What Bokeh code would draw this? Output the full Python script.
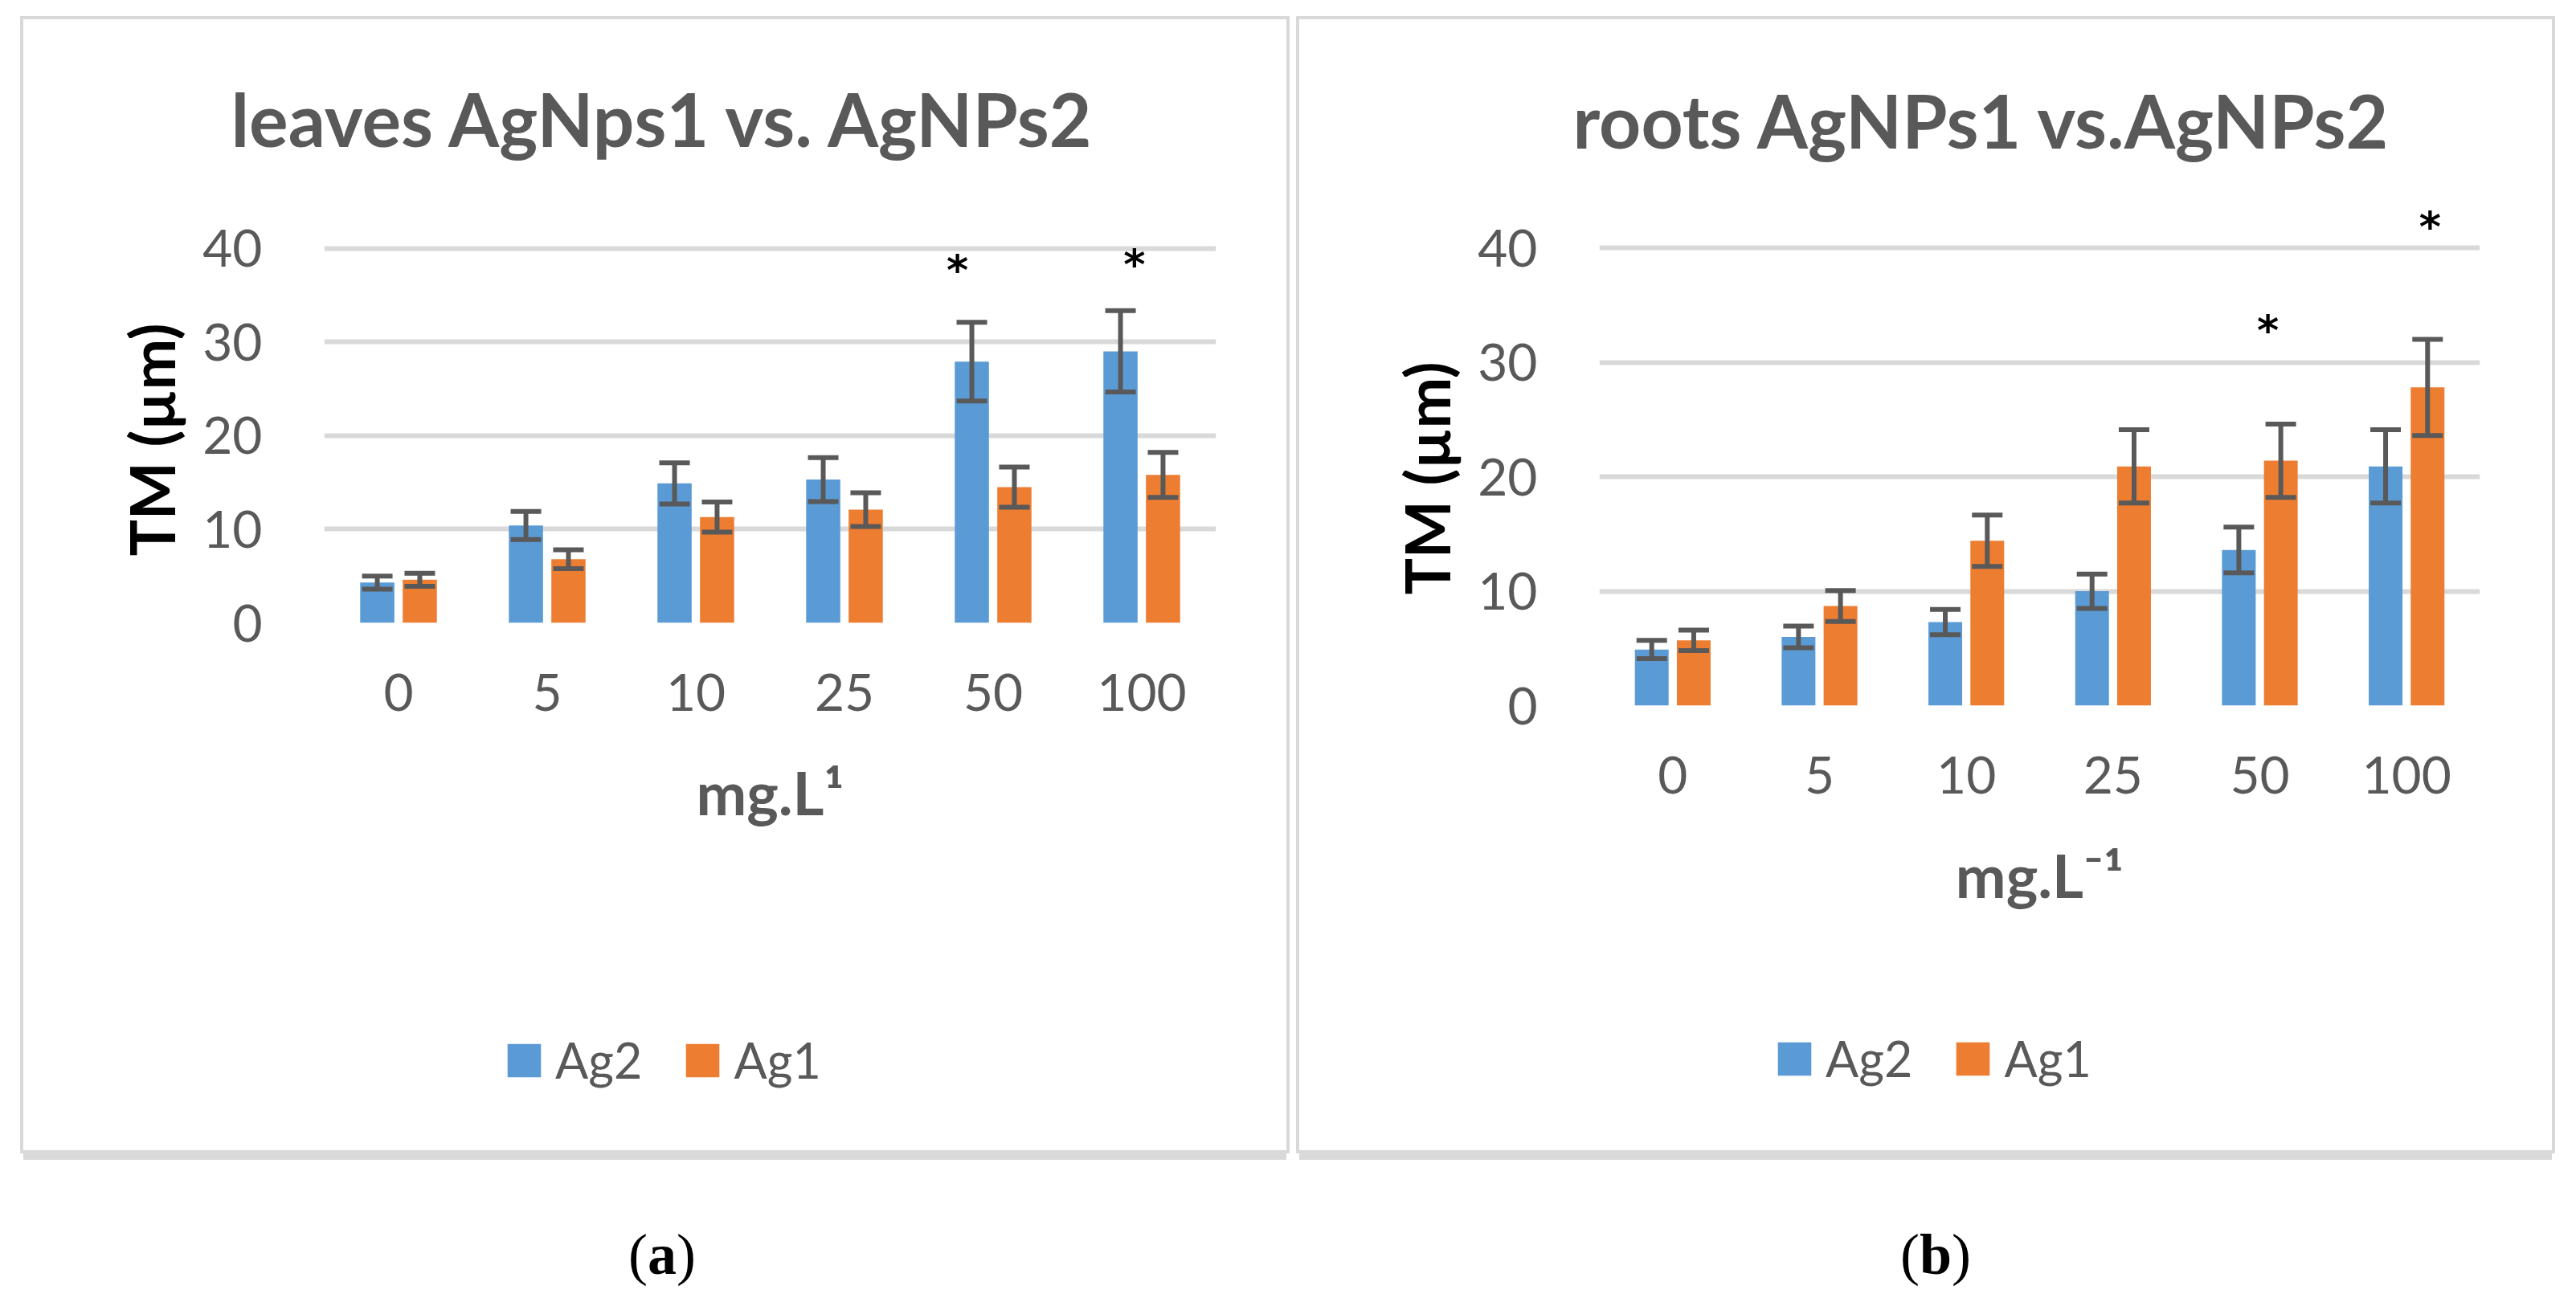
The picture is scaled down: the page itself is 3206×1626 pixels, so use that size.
from bokeh.plotting import figure
from bokeh.models import (FactorRange, ColumnDataSource, Whisker, TeeHead, Legend,
                          LegendItem, Title, FixedTicker, Div, Range1d)
from bokeh.transform import dodge
from bokeh.layouts import row, column
from bokeh.core.properties import value
from bokeh.embed import file_html
from bokeh.resources import INLINE

# ---------------- data ----------------
concentrations = ["0", "5", "10", "25", "50", "100"]
y_ticks = [0, 10, 20, 30, 40]

leaves_ag2 = [4.3, 10.4, 14.9, 15.3, 27.9, 29.0]
leaves_ag2_err = [0.7, 1.5, 2.2, 2.35, 4.2, 4.35]
leaves_ag1 = [4.6, 6.8, 11.3, 12.1, 14.5, 15.8]
leaves_ag1_err = [0.7, 1.0, 1.6, 1.8, 2.15, 2.4]

roots_ag2 = [4.9, 6.0, 7.3, 10.0, 13.6, 20.9]
roots_ag2_err = [0.8, 0.95, 1.1, 1.5, 2.0, 3.2]
roots_ag1 = [5.7, 8.7, 14.4, 20.9, 21.4, 27.8]
roots_ag1_err = [0.9, 1.35, 2.25, 3.2, 3.2, 4.2]

# significance marks: (category, offset within category, height)
leaves_marks = [("50", -0.24, 38.6), ("100", -0.05, 39.2)]
roots_marks = [("50", 0.055, 33.6), ("100", 0.16, 42.6)]

series_names = ["Ag2", "Ag1"]
BLUE = "#5b9bd5"
ORANGE = "#ed7d31"
GREY_TXT = "#595959"
GRID = "#d9d9d9"
FONT = "Lato"

PANEL_STYLE = {"outline": "4px solid #d9d9d9",
               "box-shadow": "0px 12px 0px 0px #d9d9d9",
               "background-color": "white"}


def make_chart(title, xlabel, ag2, ag2e, ag1, ag1e, marks, ymax,
               fw, fh, mbl, mbr, mbt, mbb, title_off, title_standoff, ylab_off):
    p = figure(x_range=FactorRange(factors=concentrations),
               y_range=Range1d(0, ymax),
               frame_width=fw, frame_height=fh,
               min_border_left=mbl, min_border_right=mbr,
               min_border_top=mbt, min_border_bottom=mbb,
               output_backend="svg", toolbar_location=None,
               title=title)
    p.outline_line_color = None
    p.background_fill_color = "white"
    p.border_fill_color = "white"

    p.title.text_font = FONT
    p.title.text_font_size = "91px"
    p.title.text_font_style = "bold"
    p.title.text_color = GREY_TXT
    p.title.align = "left"
    p.title.offset = title_off
    p.title.standoff = title_standoff

    src = ColumnDataSource(dict(
        cat=concentrations, ag2=ag2, ag1=ag1,
        ag2_up=[v + e for v, e in zip(ag2, ag2e)],
        ag2_lo=[v - e for v, e in zip(ag2, ag2e)],
        ag1_up=[v + e for v, e in zip(ag1, ag1e)],
        ag1_lo=[v - e for v, e in zip(ag1, ag1e)],
    ))
    p.vbar(x=dodge("cat", -0.143, range=p.x_range), top="ag2", width=0.23,
           source=src, fill_color=BLUE, line_color=None)
    p.vbar(x=dodge("cat", 0.143, range=p.x_range), top="ag1", width=0.23,
           source=src, fill_color=ORANGE, line_color=None)

    for off, up, lo in [(-0.143, "ag2_up", "ag2_lo"), (0.143, "ag1_up", "ag1_lo")]:
        w = Whisker(source=src, base=dodge("cat", off, range=p.x_range),
                    upper=up, lower=lo, line_color=GREY_TXT, line_width=6,
                    level="annotation",
                    upper_head=TeeHead(size=38, line_color=GREY_TXT, line_width=6),
                    lower_head=TeeHead(size=38, line_color=GREY_TXT, line_width=6))
        p.add_layout(w)

    for cat, off, yv in marks:
        ms = ColumnDataSource(dict(cat=[cat], y=[yv], t=["*"]))
        p.text(x=dodge("cat", off, range=p.x_range), y="y", text="t", source=ms,
               text_font=value("DejaVu Sans"), text_font_size="52px",
               text_font_style="bold",
               text_color="black", text_align="center", text_baseline="middle",
               y_offset=11)

    p.yaxis.ticker = FixedTicker(ticks=y_ticks)
    p.ygrid.ticker = FixedTicker(ticks=y_ticks)
    p.ygrid.grid_line_color = GRID
    p.ygrid.grid_line_width = 6
    p.xgrid.grid_line_color = None
    for ax in (p.xaxis, p.yaxis):
        ax.axis_line_color = None
        ax.major_tick_line_color = None
        ax.minor_tick_line_color = None
        ax.major_label_text_font = FONT
        ax.major_label_text_font_size = "64px"
        ax.major_label_text_color = GREY_TXT
    p.yaxis.major_label_standoff = 71
    p.xaxis.major_label_standoff = 57
    p.xaxis.axis_label = xlabel
    p.xaxis.axis_label_text_font = FONT
    p.xaxis.axis_label_text_font_size = "75px"
    p.xaxis.axis_label_text_font_style = "bold"
    p.xaxis.axis_label_text_color = GREY_TXT
    p.xaxis.axis_label_standoff = 53

    ylab = Title(text="TM (µm)", align="left", offset=ylab_off, standoff=32,
                 text_font=FONT, text_font_size="76px", text_font_style="bold",
                 text_color="black")
    p.add_layout(ylab, "left")
    return p


def make_legend(width, height, vx, vy):
    q = figure(width=width, height=height,
               min_border_top=0, min_border_bottom=0,
               x_range=Range1d(0, 1), y_range=Range1d(0, 1),
               x_axis_type=None, y_axis_type=None,
               output_backend="svg", toolbar_location=None)
    q.outline_line_color = None
    q.grid.grid_line_color = None
    q.background_fill_color = "white"
    q.border_fill_color = "white"
    # zero-height bars: they only provide the legend swatches
    dummy = ColumnDataSource(dict(x=[0.5], top=[0.0]))
    rb = q.vbar(x="x", top="top", width=0.01, source=dummy,
                fill_color=BLUE, line_color=None)
    ro = q.vbar(x="x", top="top", width=0.01, source=dummy,
                fill_color=ORANGE, line_color=None)
    legend = Legend(items=[LegendItem(label=series_names[0], renderers=[rb]),
                           LegendItem(label=series_names[1], renderers=[ro])],
                    orientation="horizontal", location=(vx, vy),
                    margin=0, padding=0, spacing=49,
                    glyph_width=52, glyph_height=52, label_standoff=13,
                    label_text_font=FONT, label_text_font_size="61px",
                    label_text_color=GREY_TXT, border_line_color=None,
                    background_fill_alpha=0)
    q.add_layout(legend, "center")
    return q


CHART_H = 1176
LEG_H = 232

c1 = make_chart("leaves AgNps1 vs. AgNPs2", "mg.L¹",
                leaves_ag2, leaves_ag2_err, leaves_ag1, leaves_ag1_err, leaves_marks, 44,
                fw=1110, fh=513, mbl=374, mbr=88, mbt=238, mbb=CHART_H - 238 - 513,
                title_off=-116, title_standoff=122, ylab_off=83)
c2 = make_chart("roots AgNPs1 vs.AgNPs2", "mg.L⁻¹",
                roots_ag2, roots_ag2_err, roots_ag1, roots_ag1_err, roots_marks, 44,
                fw=1096, fh=627, mbl=373, mbr=90, mbt=227, mbb=CHART_H - 227 - 627,
                title_off=-33, title_standoff=96, ylab_off=138)
l1 = make_legend(1572, LEG_H, 223, 76)
l2 = make_legend(1559, LEG_H, 217, 78)

panel1 = column(c1, l1, spacing=0, margin=(24, 0, 0, 29), styles=PANEL_STYLE)
panel2 = column(c2, l2, spacing=0, margin=(24, 0, 0, 16), styles=PANEL_STYLE)

cap_style = {"font-family": "'Liberation Serif', 'Times New Roman', serif",
             "font-size": "72px", "text-align": "center", "line-height": "100px",
             "color": "black"}
da = Div(text="(<b>a</b>)", width=1598, height=100, styles=cap_style, margin=(80, 0, 0, 25))
db = Div(text="(<b>b</b>)", width=1572, height=100, styles=cap_style, margin=(80, 0, 0, 0))

layout = column(row(panel1, panel2), row(da, db))
open("out.html", "w").write(file_html(layout, INLINE))
